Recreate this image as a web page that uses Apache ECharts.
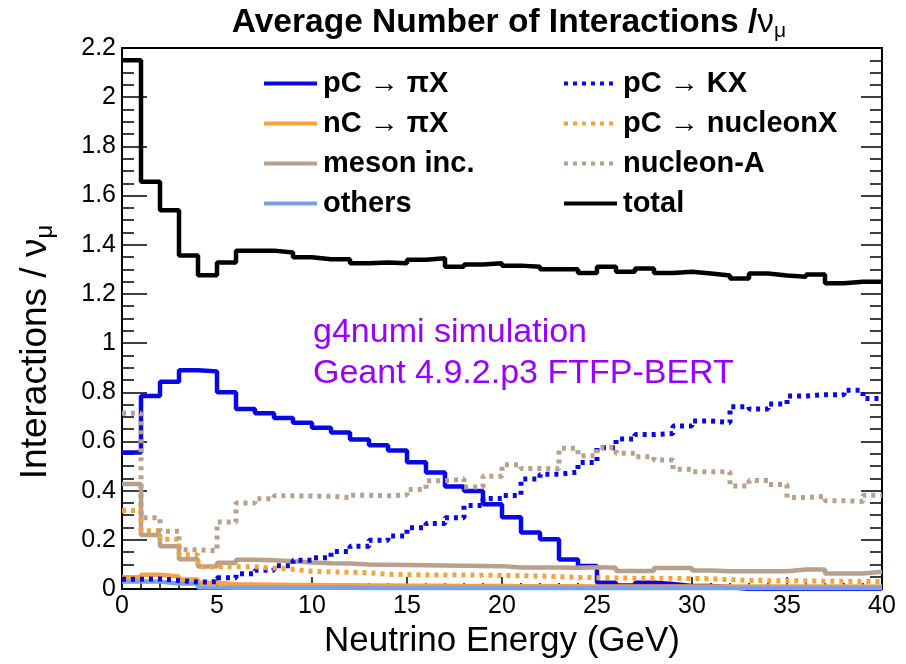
<!DOCTYPE html>
<html>
<head>
<meta charset="utf-8">
<script src="https://cdn.jsdelivr.net/npm/echarts@6/dist/echarts.min.js"></script>
<style>
html,body{margin:0;padding:0;background:#fff;}
#chart{width:906px;height:664px;}
</style>
</head>
<body>
<div id="chart"></div>
<script>
// Bin low edges (GeV), 1 GeV bins
const binLowEdges = [0,1,2,3,4,5,6,7,8,9,10,11,12,13,14,15,16,17,18,19,20,21,22,23,24,25,26,27,28,29,30,31,32,33,34,35,36,37,38,39];
const binUpperEdge = 40;

const pCpiX = [0.555,0.785,0.843,0.89,0.885,0.80,0.732,0.715,0.695,0.676,0.656,0.636,0.608,0.585,0.563,0.515,0.474,0.417,0.399,0.345,0.292,0.23,0.202,0.12,0.094,0.025,0.014,0.025,0.02,0.012,0.012,0.008,0,0,0,0,0,0,0,0];
const nCpiX = [0.048,0.058,0.051,0.039,0.025,0.019,0.018,0.017,0.016,0.016,0.015,0.015,0.014,0.014,0.013,0.013,0.013,0.012,0.012,0.012,0.011,0.011,0.011,0.011,0.010,0.010,0.010,0.010,0.010,0.010,0.010,0.010,0.010,0.010,0.010,0.010,0.010,0.010,0.010,0.010];
const mesonInc = [0.427,0.22,0.174,0.121,0.092,0.107,0.119,0.117,0.113,0.108,0.105,0.104,0.1,0.099,0.098,0.097,0.096,0.095,0.094,0.093,0.087,0.087,0.087,0.086,0.088,0.086,0.073,0.073,0.085,0.085,0.075,0.072,0.072,0.072,0.072,0.079,0.079,0.063,0.063,0.07];
const others = [0.03,0.03,0.022,0.022,0.006,0.005,0.005,0.005,0.005,0.005,0.005,0.005,0.004,0.004,0.004,0.004,0.004,0.004,0.004,0.004,0.004,0.004,0.004,0.004,0.004,0.004,0.004,0.004,0.004,0.004,0.004,0.004,0.004,0.004,0.004,0.004,0.004,0.004,0.004,0.004];
const pCKX = [0.04,0.041,0.035,0.028,0.03,0.046,0.062,0.076,0.095,0.117,0.127,0.152,0.174,0.198,0.216,0.249,0.266,0.29,0.34,0.368,0.38,0.447,0.467,0.475,0.514,0.574,0.61,0.628,0.632,0.663,0.683,0.677,0.741,0.732,0.752,0.785,0.79,0.79,0.808,0.775];
const pCnucleonX = [0.319,0.237,0.202,0.139,0.09,0.09,0.09,0.085,0.08,0.072,0.07,0.068,0.066,0.06,0.058,0.057,0.057,0.057,0.056,0.055,0.054,0.053,0.05,0.047,0.046,0.045,0.044,0.044,0.043,0.043,0.042,0.038,0.035,0.034,0.034,0.033,0.032,0.031,0.031,0.03];
const nucleonA = [0.715,0.29,0.235,0.16,0.155,0.272,0.35,0.367,0.379,0.378,0.377,0.372,0.381,0.379,0.383,0.405,0.44,0.447,0.415,0.459,0.505,0.49,0.489,0.572,0.542,0.575,0.552,0.538,0.525,0.487,0.477,0.476,0.419,0.441,0.425,0.372,0.377,0.359,0.356,0.381];
const total = [2.15,1.656,1.54,1.356,1.276,1.328,1.376,1.376,1.368,1.349,1.341,1.341,1.325,1.328,1.325,1.339,1.345,1.31,1.32,1.325,1.315,1.31,1.30,1.30,1.285,1.31,1.29,1.303,1.285,1.29,1.283,1.275,1.263,1.283,1.275,1.27,1.279,1.243,1.249,1.249];

const yTicks = [0,0.2,0.4,0.6,0.8,1,1.2,1.4,1.6,1.8,2,2.2];
const xTicks = [0,5,10,15,20,25,30,35,40];

const FONT = '"Liberation Sans", Arial, Helvetica, sans-serif';

function histData(vals){
  const d = vals.map((v,i)=>[binLowEdges[i], v]);
  d.push([binUpperEdge, vals[vals.length-1]]);
  return d;
}
function mk(name, vals, color, dashed, z){
  return {
    name: name, type: 'line', step: 'end', data: histData(vals),
    symbol: 'none', showSymbol: false, z: z,
    lineStyle: {color: color, width: dashed ? 5 : 4.5, type: dashed ? [4,5] : 'solid', cap: 'butt'},
    itemStyle: {color: color},
    emphasis: {disabled: true}, animation: false
  };
}
const BLUE='#0808e6', ORANGE='#f5a33c', TAN='#b8a08a', LBLUE='#7e9fe0';

const chart = echarts.init(document.getElementById('chart'), null, {renderer:'canvas'});
const legendText = {fontSize: 29, fontWeight: 'bold', color: '#000', fontFamily: FONT, padding: [0,0,0,1]};
const legendCommon = {
  orient: 'vertical', top: 64, itemWidth: 53, itemHeight: 28, itemGap: 11,
  selectedMode: false, textStyle: legendText,
  itemStyle: {opacity: 0},
  lineStyle: {width: 4, type: 'inherit', color: 'inherit'}
};
chart.setOption({
  animation: false,
  backgroundColor: '#fff',
  grid: {left: 122, right: 24, top: 48, bottom: 66, show: true, borderColor: '#000', borderWidth: 2},
  xAxis: {
    type: 'value', min: xTicks[0], max: xTicks[xTicks.length-1], interval: 5,
    axisLine: {show: true, lineStyle: {color: '#000', width: 2}},
    axisTick: {show: true, inside: true, length: 12, lineStyle: {color: '#000', width: 1.5}},
    minorTick: {show: true, splitNumber: 5, length: 6, lineStyle: {color: '#000', width: 1.5}},
    splitLine: {show: false},
    axisLabel: {fontSize: 25, color: '#000', fontFamily: FONT, margin: 5},
    name: 'Neutrino Energy (GeV)', nameLocation: 'middle', nameGap: 35,
    nameTextStyle: {fontSize: 35, color: '#000', fontFamily: FONT}
  },
  yAxis: [{
    type: 'value', min: yTicks[0], max: yTicks[yTicks.length-1], interval: 0.2,
    axisLine: {show: true, lineStyle: {color: '#000', width: 2}},
    axisTick: {show: true, inside: true, length: 25, lineStyle: {color: '#000', width: 1.5}},
    minorTick: {show: true, splitNumber: 4, length: 12, lineStyle: {color: '#000', width: 1.5}},
    splitLine: {show: false},
    axisLabel: {fontSize: 25, color: '#000', fontFamily: FONT, margin: 6}
  },{
    type: 'value', position: 'right', min: yTicks[0], max: yTicks[yTicks.length-1], interval: 0.2,
    axisLine: {show: true, lineStyle: {color: '#000', width: 2}},
    axisTick: {show: true, inside: true, length: 21, lineStyle: {color: '#000', width: 1.5}},
    minorTick: {show: true, splitNumber: 4, length: 12, lineStyle: {color: '#000', width: 1.5}},
    splitLine: {show: false},
    axisLabel: {show: false}
  }],
  legend: [
    Object.assign({data: ['pC \u2192 \u03c0X','nC \u2192 \u03c0X','meson inc.','others'], left: 257}, legendCommon),
    Object.assign({data: ['pC \u2192 KX','pC \u2192 nucleonX','nucleon-A','total'], left: 557}, legendCommon)
  ],
  graphic: [
    {type: 'text', x: 509, y: 23, z: 10, style: {
      text: '{a|Average Number of Interactions /}{n|\u03bd}{b|\u03bc}',
      align: 'center', verticalAlign: 'middle',
      rich: {a: {fontSize: 33.5, fontWeight: 'bold', fontFamily: FONT, fill: '#000'},
             n: {fontSize: 33.5, fontFamily: FONT, fill: '#000'},
             b: {fontSize: 21, fontFamily: FONT, fill: '#000', padding: [16,0,0,0]}}
    }},
    {type: 'text', x: 36, y: 352, rotation: Math.PI/2, z: 10, style: {
      text: '{a|Interactions / \u03bd}{b|\u03bc}',
      align: 'center', verticalAlign: 'middle',
      rich: {a: {fontSize: 37, fontFamily: FONT, fill: '#000'},
             b: {fontSize: 24, fontFamily: FONT, fill: '#000', padding: [19,0,0,0]}}
    }},
    {type: 'text', x: 313, y: 333, z: 10, style: {
      text: 'g4numi simulation', fontSize: 34, fontFamily: FONT, fill: '#9a00ff',
      align: 'left', verticalAlign: 'middle'}},
    {type: 'text', x: 313, y: 374, z: 10, style: {
      text: 'Geant 4.9.2.p3 FTFP-BERT', fontSize: 34, fontFamily: FONT, fill: '#9a00ff',
      align: 'left', verticalAlign: 'middle'}}
  ],
  series: [
    mk('pC \u2192 \u03c0X', pCpiX, BLUE, false, 3),
    mk('nC \u2192 \u03c0X', nCpiX, ORANGE, false, 3),
    mk('meson inc.', mesonInc, TAN, false, 3),
    mk('others', others, LBLUE, false, 3),
    mk('pC \u2192 KX', pCKX, BLUE, true, 4),
    mk('pC \u2192 nucleonX', pCnucleonX, ORANGE, true, 4),
    mk('nucleon-A', nucleonA, TAN, true, 4),
    mk('total', total, '#000', false, 5)
  ]
});
</script>
</body>
</html>
